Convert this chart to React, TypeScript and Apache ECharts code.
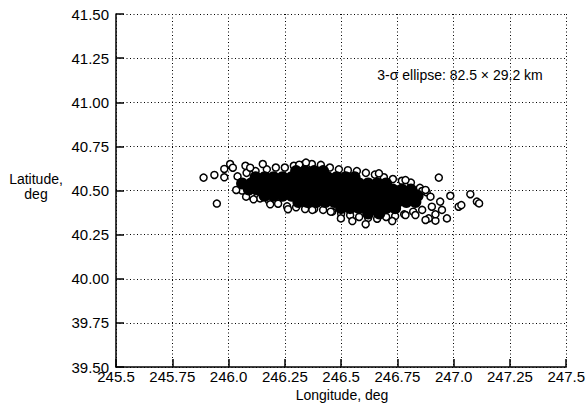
import React, { useEffect, useRef } from "react";
import * as echarts from "echarts";

// Tick labels
const xTickLabels = ["245.5", "245.75", "246.0", "246.25", "246.5", "246.75", "247.0", "247.25", "247.5"];
const yTickLabels = ["39.50", "39.75", "40.00", "40.25", "40.50", "40.75", "41.00", "41.25", "41.50"];

// Dense core of the cloud: rows of [latitude, longitudes...]
const coreRows: number[][] = [
  [40.61, 246.30, 246.34, 246.38, 246.42],
  [40.575, 246.12, 246.16, 246.20, 246.24, 246.28, 246.32, 246.36, 246.40, 246.44, 246.48, 246.52, 246.56],
  [40.54, 246.06, 246.10, 246.14, 246.18, 246.22, 246.26, 246.30, 246.34, 246.38, 246.42, 246.46, 246.50, 246.54, 246.58, 246.62, 246.66, 246.70],
  [40.505, 246.09, 246.13, 246.17, 246.21, 246.25, 246.29, 246.33, 246.37, 246.41, 246.45, 246.49, 246.53, 246.57, 246.61, 246.65, 246.69, 246.73, 246.77, 246.81],
  [40.47, 246.16, 246.20, 246.24, 246.28, 246.32, 246.36, 246.40, 246.44, 246.48, 246.52, 246.56, 246.60, 246.64, 246.68, 246.72, 246.76, 246.80, 246.84],
  [40.435, 246.31, 246.35, 246.39, 246.43, 246.47, 246.51, 246.55, 246.59, 246.63, 246.67, 246.71, 246.75, 246.79, 246.83],
  [40.40, 246.50, 246.54, 246.58, 246.62, 246.66, 246.70, 246.74],
  [40.37, 246.62, 246.67],
];

// Edge of the cloud (individual open circles), [lon, lat]
const edgeTop: number[][] = [
  [246.04, 40.58], [246.08, 40.60], [246.12, 40.61], [246.17, 40.62], [246.21, 40.63], [246.25, 40.63],
  [246.29, 40.64], [246.33, 40.645], [246.37, 40.65], [246.41, 40.645], [246.45, 40.63], [246.49, 40.62],
  [246.53, 40.615], [246.57, 40.61], [246.61, 40.60], [246.65, 40.59], [246.69, 40.575], [246.73, 40.565],
  [246.77, 40.555], [246.81, 40.545], [246.85, 40.515], [246.88, 40.49],
];
const edgeBottom: number[][] = [
  [246.06, 40.50], [246.10, 40.47], [246.14, 40.455], [246.18, 40.44], [246.22, 40.425], [246.26, 40.41],
  [246.30, 40.405], [246.34, 40.395], [246.38, 40.395], [246.42, 40.39], [246.46, 40.38], [246.50, 40.37],
  [246.54, 40.36], [246.58, 40.35], [246.62, 40.345], [246.66, 40.34], [246.70, 40.35], [246.74, 40.355],
  [246.78, 40.365], [246.82, 40.38], [246.86, 40.39],
];
// Scattered outliers, [lon, lat]
const outliers: number[][] = [
  [245.889, 40.573], [245.937, 40.588], [245.948, 40.426], [245.981, 40.575], [245.981, 40.622],
  [246.007, 40.65], [246.019, 40.629], [246.075, 40.64], [246.096, 40.629], [246.152, 40.65],
  [246.034, 40.503], [246.078, 40.465], [246.111, 40.45], [246.185, 40.422], [246.264, 40.394],
  [246.344, 40.658], [246.314, 40.646], [246.499, 40.342], [246.55, 40.327], [246.609, 40.309],
  [246.668, 40.597], [246.934, 40.573], [246.985, 40.47], [247.074, 40.479], [247.022, 40.408],
  [247.034, 40.417], [247.103, 40.437], [247.113, 40.427], [246.97, 40.342], [246.919, 40.329],
  [246.889, 40.342], [246.948, 40.39], [246.919, 40.365], [246.94, 40.437], [246.903, 40.408],
  [246.875, 40.333], [246.86, 40.497], [246.897, 40.465], [246.786, 40.559], [246.454, 40.38],
  [246.372, 40.39], [246.727, 40.327], [246.786, 40.361], [246.83, 40.361], [246.875, 40.503],
];

const annotation = "3-σ ellipse: 82.5 × 29.2 km";
const xName = "Longitude, deg";
const yNameLines = ["Latitude,", "deg"];

const FONT = "'Liberation Sans', Arial, Helvetica, sans-serif";

export default function App() {
  const ref = useRef<HTMLDivElement>(null);
  useEffect(() => {
    if (!ref.current) return;
    const chart = echarts.init(ref.current, null, { renderer: "svg" });
    const coreData: number[][] = [];
    coreRows.forEach((row) => {
      const lat = row[0];
      row.slice(1).forEach((lon) => coreData.push([lon, lat]));
    });
    const dotted = { color: "#000", width: 1, type: [1, 2.5] as any };
    chart.setOption({
      animation: false,
      backgroundColor: "#fff",
      grid: { left: 116, right: 20, top: 14, bottom: 46, containLabel: false },
      xAxis: {
        type: "value",
        min: 245.5,
        max: 247.5,
        interval: 0.25,
        axisLine: { show: true, lineStyle: { color: "#000", width: 1.5 } },
        axisTick: { show: true, inside: true, length: 8, lineStyle: { color: "#000", width: 1.5 } },
        splitLine: { show: true, lineStyle: dotted },
        axisLabel: {
          color: "#000",
          fontFamily: FONT,
          fontSize: 15,
          margin: 2,
          formatter: (v: number) => xTickLabels[Math.round((v - 245.5) / 0.25)] ?? "",
        },
      },
      yAxis: {
        type: "value",
        min: 39.5,
        max: 41.5,
        interval: 0.25,
        axisLine: { show: true, lineStyle: { color: "#000", width: 1.5 } },
        axisTick: { show: true, inside: true, length: 8, lineStyle: { color: "#000", width: 1.5 } },
        splitLine: { show: true, lineStyle: dotted },
        axisLabel: {
          color: "#000",
          fontFamily: FONT,
          fontSize: 15,
          margin: 7,
          formatter: (v: number) => yTickLabels[Math.round((v - 39.5) / 0.25)] ?? "",
        },
      },
      graphic: [
        {
          type: "text",
          x: 460,
          y: 75,
          style: { text: annotation, font: `14px ${FONT}`, fill: "#000", textAlign: "center", textVerticalAlign: "middle" },
        },
        {
          type: "text",
          x: 342,
          y: 395,
          style: { text: xName, font: `14px ${FONT}`, fill: "#000", textAlign: "center", textVerticalAlign: "middle" },
        },
        {
          type: "text",
          x: 36,
          y: 179,
          style: { text: yNameLines[0], font: `14px ${FONT}`, fill: "#000", textAlign: "center", textVerticalAlign: "middle" },
        },
        {
          type: "text",
          x: 36,
          y: 194,
          style: { text: yNameLines[1], font: `14px ${FONT}`, fill: "#000", textAlign: "center", textVerticalAlign: "middle" },
        },
      ],
      series: [
        {
          type: "scatter",
          data: [...edgeTop, ...edgeBottom, ...outliers],
          symbol: "circle",
          symbolSize: 7,
          itemStyle: { color: "#fff", borderColor: "#000", borderWidth: 1.5, opacity: 1 },
          silent: true,
        },
        {
          type: "scatter",
          data: coreData,
          symbol: "circle",
          symbolSize: 12,
          itemStyle: { color: "#000", borderWidth: 0, opacity: 1 },
          silent: true,
        },
      ],
    });
    return () => chart.dispose();
  }, []);
  return <div ref={ref} style={{ width: 588, height: 413, position: "absolute", left: 0, top: 0 }} />;
}
